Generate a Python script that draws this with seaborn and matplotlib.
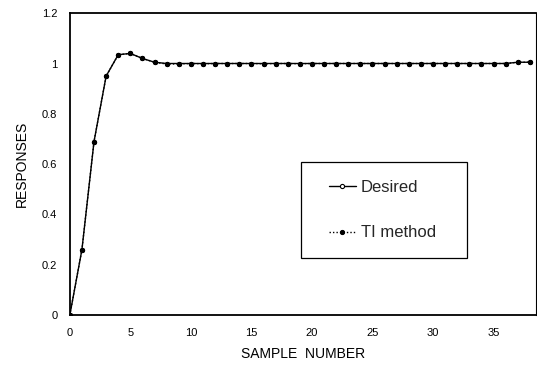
import numpy as np
import pandas as pd
import seaborn as sns
import matplotlib
matplotlib.use("Agg")
import matplotlib.pyplot as plt
from matplotlib.patches import Rectangle

samples = list(range(39))
desired = [0.0, 0.26, 0.69, 0.95, 1.035, 1.04, 1.02, 1.005, 1.0, 1.0,
           1.0, 1.0, 1.0, 1.0, 1.0, 1.0, 1.0, 1.0, 1.0, 1.0,
           1.0, 1.0, 1.0, 1.0, 1.0, 1.0, 1.0, 1.0, 1.0, 1.0,
           1.0, 1.0, 1.0, 1.0, 1.0, 1.0, 1.0, 1.005, 1.005]
ti_method = [0.0, 0.26, 0.69, 0.95, 1.035, 1.04, 1.02, 1.005, 0.998, 0.998,
             1.0, 0.999, 1.0, 1.0, 1.0, 1.0, 0.999, 1.0, 1.0, 0.999,
             1.0, 1.0, 1.0, 1.0, 1.0, 1.0, 1.0, 1.0, 1.0, 1.0,
             1.0, 1.0, 1.0, 1.0, 1.0, 1.0, 1.0, 1.005, 1.005]
x_ticks = [0, 5, 10, 15, 20, 25, 30, 35]
y_ticks = [0, 0.2, 0.4, 0.6, 0.8, 1.0, 1.2]
y_tick_labels = ["0", "0.2", "0.4", "0.6", "0.8", "1", "1.2"]

sns.set_theme(style="white")
plt.rcParams['font.family'] = ['Liberation Sans', 'DejaVu Sans']

fig = plt.figure(figsize=(5.37, 3.66), dpi=100)
ax = fig.add_axes([0.130, 0.139, 0.868, 0.825])

df_d = pd.DataFrame({"x": samples, "y": desired})
df_t = pd.DataFrame({"x": samples, "y": ti_method})

sns.lineplot(data=df_d, x="x", y="y", ax=ax, color="black", lw=1.0,
             marker="o", markersize=3.0, markerfacecolor="white",
             markeredgecolor="black", markeredgewidth=0.8, label="Desired")
sns.lineplot(data=df_t, x="x", y="y", ax=ax, color="black", lw=1.0,
             linestyle=(0, (1, 1.5)), marker="o", markersize=3.0,
             markerfacecolor="black", markeredgecolor="black",
             label="TI method")

ax.set_xlim(0, 38.5)
ax.set_ylim(0, 1.2)
ax.set_xticks(x_ticks)
ax.set_yticks(y_ticks)
ax.set_yticklabels(y_tick_labels)
ax.tick_params(axis="both", labelsize=8, colors="black", length=0, pad=9)
ax.set_xlabel("SAMPLE  NUMBER", fontsize=10, color="black", labelpad=7)
ax.set_ylabel("RESPONSES", fontsize=10, color="black", labelpad=9)
for s in ax.spines.values():
    s.set_color("black")
    s.set_linewidth(1.3)
ax.spines["right"].set_linewidth(0.8)

# legend frame drawn as a box, legend contents placed inside
ax.add_patch(Rectangle((0.496, 0.189), 0.356, 0.318, transform=ax.transAxes,
                       fill=False, edgecolor="black", linewidth=0.9, zorder=5))
leg = ax.legend(loc="center left", bbox_to_anchor=(0.556, 0.348),
                frameon=False, fontsize=12, labelspacing=1.84,
                handlelength=1.6, handletextpad=0.3, borderpad=0,
                borderaxespad=0)

fig.savefig("out.png", dpi=100)
